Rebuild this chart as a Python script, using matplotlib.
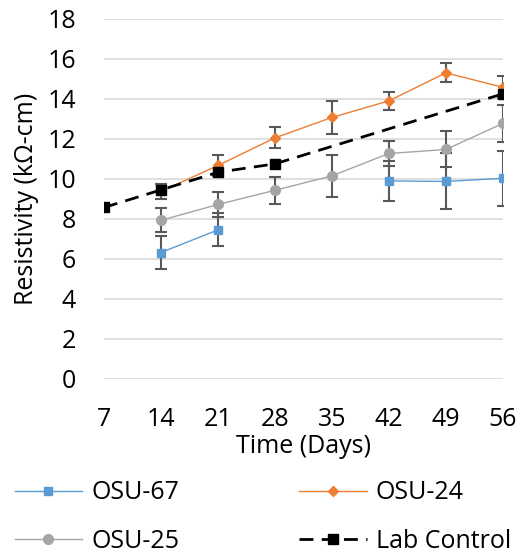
import numpy as np
import matplotlib.pyplot as plt

plt.rcParams['font.family'] = ['Open Sans', 'DejaVu Sans']

days = [7, 14, 21, 28, 35, 42, 49, 56]

osu67 = [np.nan, 6.32, 7.45, np.nan, np.nan, 9.9, 9.87, 10.03]
osu67_err = [0, 0.81, 0.83, 0, 0, 1.0, 1.4, 1.37]

osu24 = [np.nan, 9.37, 10.67, 12.05, 13.07, 13.9, 15.3, 14.58]
osu24_err = [0, 0.38, 0.54, 0.52, 0.83, 0.45, 0.47, 0.55]

osu25 = [np.nan, 7.93, 8.72, 9.43, 10.15, 11.27, 11.47, 12.77]
osu25_err = [0, 0.6, 0.62, 0.67, 1.06, 0.63, 0.9, 0.92]

lab_days = [7, 14, 21, 28, 56]
lab_control = [8.57, 9.45, 10.33, 10.75, 14.25]

FS = 18

fig = plt.figure(figsize=(5.2, 5.54), dpi=100)
ax = fig.add_axes([0.2, 0.316, 0.767, 0.65])

err_style = dict(fmt='none', ecolor='#595959', elinewidth=1.5, capsize=4, capthick=1.5, zorder=2)
ax.errorbar(days, osu67, yerr=osu67_err, **err_style)
ax.errorbar(days, osu24, yerr=osu24_err, **err_style)
ax.errorbar(days, osu25, yerr=osu25_err, **err_style)

l1, = ax.plot(days, osu67, color='#5B9BD5', lw=1, marker='s', ms=6, label='OSU-67', zorder=3)
l2, = ax.plot(days, osu24, color='#ED7D31', lw=1, marker='D', ms=5, label='OSU-24', zorder=3)
l3, = ax.plot(days, osu25, color='#A5A5A5', lw=1, marker='o', ms=7, label='OSU-25', zorder=3)
l4, = ax.plot(lab_days, lab_control, color='black', lw=2, ls=(0, (5, 3)), marker='s', ms=6.5,
              label='Lab Control', zorder=4)

ax.set_xlim(7, 56)
ax.set_ylim(0, 18)
ax.set_xticks(days)
ax.set_yticks(range(0, 19, 2))
ax.grid(axis='y', color='#d9d9d9', lw=1.2)
ax.set_axisbelow(True)
for s in ax.spines.values():
    s.set_visible(False)
ax.tick_params(length=0, labelsize=FS)
ax.tick_params(axis='x', pad=20)
ax.tick_params(axis='y', pad=20)
ax.set_xlabel('Time (Days)', fontsize=FS, labelpad=2)
ax.set_ylabel('Resistivity (kΩ-cm)', fontsize=FS, labelpad=6)

# row-major order: OSU-67, OSU-24 / OSU-25, Lab Control
fig.legend(handles=[l1, l3, l2, l4], loc='upper left', bbox_to_anchor=(0.009, 0.151),
           ncol=2, frameon=False, fontsize=FS, handlelength=2.7, columnspacing=4.8,
           labelspacing=0.94, handletextpad=0.36, borderaxespad=0)

fig.savefig('out.png', dpi=100)
